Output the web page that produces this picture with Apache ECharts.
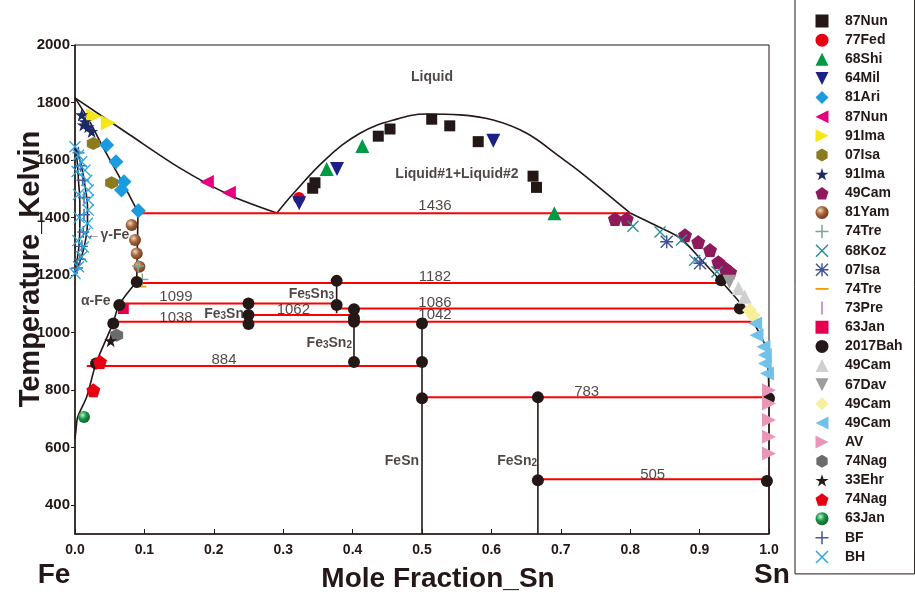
<!DOCTYPE html>
<html>
<head>
<meta charset="utf-8">
<script src="https://cdn.jsdelivr.net/npm/echarts@6/dist/echarts.min.js"></script>
<style>
  html, body { margin: 0; padding: 0; background: #fff; }
  #chart { width: 915px; height: 599px; }
</style>
</head>
<body>
<div id="chart"></div>
<script>
// y axis tick labels (K)
const yTicks = [400, 600, 800, 1000, 1200, 1400, 1600, 1800, 2000]

// phase boundaries [mole fraction Sn, T]
const feLiquidus = [[0, 1816], [0.0793, 1687], [0.1513, 1572], [0.2233, 1478], [0.291, 1416]]
const deltaSolidus = [[0, 1816], [0.0216, 1732], [0.0403, 1645], [0.072, 1506], [0.0908, 1419]]
const gammaEdge = [[0.0908, 1419], [0.0889, 1177]]
const alphaSolvus = [[0.0889, 1177], [0.0634, 1096], [0.0548, 1033], [0.0303, 893], [0.0169, 777], [0.0039, 707], [0.0014, 661], [0, 630]]
const gammaLoopOuter = [[0, 1646], [0.006, 1610], [0.011, 1560], [0.015, 1500], [0.018, 1440], [0.018, 1380], [0.015, 1320], [0.009, 1260], [0, 1208]]
const gammaLoopInner = [[0, 1646], [0.003, 1600], [0.005, 1530], [0.007, 1450], [0.007, 1380], [0.006, 1310], [0.003, 1250], [0, 1208]]
const dome = [[0.291, 1416], [0.3146, 1484], [0.3627, 1606], [0.4107, 1693], [0.4587, 1739], [0.5068, 1760], [0.5548, 1757], [0.6027, 1739], [0.6509, 1693], [0.6988, 1611], [0.7277, 1559], [0.7997, 1416]]
const snLiquidus = [[0.7997, 1416], [0.8357, 1374], [0.8718, 1329], [0.9006, 1258], [0.9294, 1183], [0.9607, 1096], [0.9798, 1026], [0.9942, 956], [0.9986, 870], [1.0, 776]]
const compoundLines = [
  [[0.25, 1101], [0.25, 1030]],
  [[0.377, 1180], [0.377, 1067]],
  [[0.402, 1081], [0.402, 898]],
  [[0.5, 1032], [0.5, 300]],
  [[0.667, 775], [0.667, 300]],
  [[1.0, 776], [1.0, 300]]
]
// invariant reactions [x from, x to, T]
const invariants = [
  [0.094, 0.80, 1415], [0.09, 0.931, 1173], [0.065, 0.377, 1101], [0.38, 0.958, 1084],
  [0.25, 0.402, 1061], [0.05, 0.975, 1038], [0.017, 0.5, 884], [0.5, 1.0, 775], [0.667, 1.0, 490]
]

// experimental points
const nun87Sq = [[0.3425, 1502], [0.3458, 1521], [0.437, 1683], [0.4539, 1708], [0.514, 1742], [0.54, 1719], [0.581, 1664], [0.66, 1544], [0.665, 1505]]
const fed77 = [[0.3228, 1468]]
const shi68 = [[0.3627, 1569], [0.414, 1649], [0.6907, 1415]]
const mil64 = [[0.323, 1450], [0.3775, 1569], [0.6028, 1667]]
const ari81 = [[0.0456, 1652], [0.059, 1594], [0.0706, 1525], [0.067, 1496], [0.0913, 1424]]
const nun87Tri = [[0.19, 1524], [0.2217, 1486]]
const ima91Tri = [[0.027, 1752], [0.048, 1730]]
const isa07Hex = [[0.0264, 1658], [0.0528, 1521]]
const ima91Star = [[0.0096, 1757], [0.0144, 1733], [0.012, 1722], [0.019, 1716], [0.024, 1699]]
const cam49Pent = [[0.778, 1395], [0.795, 1395], [0.879, 1339], [0.898, 1315], [0.915, 1287], [0.927, 1245], [0.937, 1224], [0.944, 1210]]
const yam81 = [[0.0816, 1374], [0.0865, 1322], [0.0889, 1275], [0.0927, 1229]]
const tre74Plus = [[0.091, 1232], [0.097, 1185]]
const koz68 = [[0.804, 1370], [0.843, 1350], [0.874, 1322], [0.893, 1252], [0.925, 1212]]
const isa07Ast = [[0.8526, 1316], [0.9006, 1241]]
const tre74Dash = [[0.094, 1160]]
const pre73 = []
const jan63Sq = [[0.0696, 1084]]
const bah2017 = [
  [0.0889, 1176], [0.0638, 1096], [0.0552, 1032], [0.0303, 893],
  [0.25, 1101], [0.25, 1061], [0.25, 1030],
  [0.377, 1180], [0.377, 1096],
  [0.402, 1081], [0.402, 1050], [0.402, 1038], [0.402, 898],
  [0.5, 1032], [0.5, 898], [0.5, 772],
  [0.667, 775], [0.667, 487],
  [0.931, 1182], [0.958, 1084], [1.0, 772], [0.997, 484]
]
const cam49Tri = [[0.956, 1154], [0.965, 1125]]
const dav67 = [[0.943, 1177]]
const cam49Dia = [[0.972, 1078], [0.977, 1060]]
const cam49Left = [[0.98, 1032], [0.982, 991], [0.992, 951], [0.994, 922], [0.994, 893], [0.997, 858]]
const av = [[1.0, 800], [1.0, 754], [1.0, 696], [1.0, 638], [1.0, 580]]
const nag74Hex = [[0.06, 991]]
const ehr33 = [[0.0514, 972]]
const nag74Pent = [[0.036, 898], [0.0264, 800]]
const jan63Ball = [[0.013, 707]]
const bf = [[0.005, 1625], [0.008, 1580], [0.011, 1530], [0.013, 1470], [0.013, 1410], [0.012, 1350], [0.01, 1300], [0.007, 1255], [0.003, 1225]]
const bh = [[0, 1646], [0.005, 1617], [0.0096, 1594], [0.0144, 1565], [0.017, 1530], [0.019, 1496], [0.019, 1461], [0.019, 1426], [0.018, 1380], [0.0144, 1345], [0.012, 1298], [0.0096, 1264], [0.005, 1229], [0, 1206], [0.003, 1560], [0.005, 1480], [0.006, 1400], [0.004, 1320]]

// annotations [text, x, T, align]
const notes = [
  ['Liquid', 0.5144, 1889, 'center'],
  ['Liquid#1+Liquid#2', 0.5504, 1551, 'center'],
  ['\u2190\u03b3-Fe', 0.0165, 1339, 'left'],
  ['\u03b1-Fe', 0.030, 1110, 'center'],
  ['{b|Fe}{s|5}{b|Sn}{s|3}', 0.3732, 1136, 'right'],
  ['{b|Fe}{s|3}{b|Sn}', 0.2435, 1068, 'right'],
  ['{b|Fe}{s|3}{b|Sn}{s|2}', 0.3991, 968, 'right'],
  ['{b|FeSn}', 0.4957, 557, 'right'],
  ['{b|FeSn}{s|2}', 0.6657, 557, 'right']
]
const tempNotes = [
  ['1436', 0.5187, 1440], ['1182', 0.5187, 1193], ['1086', 0.5187, 1103], ['1042', 0.5187, 1061],
  ['1099', 0.1455, 1124], ['1038', 0.1455, 1050], ['1062', 0.3146, 1078], ['884', 0.2147, 904],
  ['783', 0.7373, 794], ['505', 0.8324, 507]
]

const FONT = "'Liberation Sans', Arial, sans-serif"
const INK = '#231815'

const SYM = {
  down: 'path://M0,0L10,0L5,10Z',
  left: 'path://M0,5L10,0L10,10Z',
  right: 'path://M0,0L10,5L0,10Z',
  hex: 'path://M5,0L9.33,2.5L9.33,7.5L5,10L0.67,7.5L0.67,2.5Z',
  pent: 'path://M5,0L9.76,3.45L7.94,9.05L2.06,9.05L0.24,3.45Z',
  star: 'path://M5,0L6.12,3.45L9.76,3.45L6.82,5.59L7.94,9.05L5,6.91L2.06,9.05L3.18,5.59L0.24,3.45L3.88,3.45Z',
  plus: 'path://M4.4,0H5.6V4.4H10V5.6H5.6V10H4.4V5.6H0V4.4H4.4Z',
  cross: 'path://M0.8,0L10,9.2L9.2,10L0,0.8ZM9.2,0L10,0.8L0.8,10L0,9.2Z',
  ast: 'path://M0,4.45H10V5.55H0ZM4.45,0H5.55V10H4.45ZM0.75,0L10,9.25L9.25,10L0,0.75ZM9.25,0L10,0.75L0.75,10L0,9.25Z',
  dash: 'path://M0,0L0,0ZM10,10L10,10ZM0,4.3H10V5.7H0Z',
  bar: 'path://M0,0L0,0ZM10,10L10,10ZM4.3,0H5.7V10H4.3Z'
}

const ball = (light, mid, dark) => ({
  type: 'radial', x: 0.38, y: 0.35, r: 0.7,
  colorStops: [{ offset: 0, color: light }, { offset: 0.45, color: mid }, { offset: 1, color: dark }]
})

// legend order; duplicated names carry zero-width spaces so each keeps its own entry
const markers = [
  { name: '87Nun', data: nun87Sq, symbol: 'rect', size: 11, color: INK },
  { name: '77Fed', data: fed77, symbol: 'circle', size: 12, color: '#e60012' },
  { name: '68Shi', data: shi68, symbol: 'triangle', size: 14, color: '#009944' },
  { name: '64Mil', data: mil64, symbol: SYM.down, size: 14, color: '#1d2088' },
  { name: '81Ari', data: ari81, symbol: 'diamond', size: 15, color: '#1a9be0' },
  { name: '87Nun\u200b', data: nun87Tri, symbol: SYM.left, size: 14, color: '#e4007f' },
  { name: '91Ima', data: ima91Tri, symbol: SYM.right, size: 15, color: '#f5e617' },
  { name: '07Isa', data: isa07Hex, symbol: SYM.hex, size: 13, color: '#8c7a1f' },
  { name: '91Ima\u200b', data: ima91Star, symbol: SYM.star, size: 13, color: '#1c2a66' },
  { name: '49Cam', data: cam49Pent, symbol: SYM.pent, size: 14, color: '#8e1a5c' },
  { name: '81Yam', data: yam81, symbol: 'circle', size: 12, color: ball('#f3d6c2', '#a8683e', '#6a3518') },
  { name: '74Tre', data: tre74Plus, symbol: SYM.plus, size: 12, color: '#7fa592' },
  { name: '68Koz', data: koz68, symbol: SYM.cross, size: 12, color: '#2a8c9a' },
  { name: '07Isa\u200b', data: isa07Ast, symbol: SYM.ast, size: 13, color: '#3e4f9c' },
  { name: '74Tre\u200b', data: tre74Dash, symbol: SYM.dash, size: 12, color: '#f39800' },
  { name: '73Pre', data: pre73, symbol: SYM.bar, size: 12, color: '#c490bf' },
  { name: '63Jan', data: jan63Sq, symbol: 'rect', size: 11, color: '#e5004f' },
  { name: '2017Bah', data: bah2017, symbol: 'circle', size: 12, color: INK },
  { name: '49Cam\u200b', data: cam49Tri, symbol: 'triangle', size: 14, color: '#cfcfcf' },
  { name: '67Dav', data: dav67, symbol: SYM.down, size: 14, color: '#9d9d9e' },
  { name: '49Cam\u200b\u200b', data: cam49Dia, symbol: 'diamond', size: 15, color: '#f8ef9c' },
  { name: '49Cam\u200b\u200b\u200b', data: cam49Left, symbol: SYM.left, size: 14, color: '#72c1e8' },
  { name: 'AV', data: av, symbol: SYM.right, size: 14, color: '#e897b9' },
  { name: '74Nag', data: nag74Hex, symbol: SYM.hex, size: 13, color: '#6b6b6b' },
  { name: '33Ehr', data: ehr33, symbol: SYM.star, size: 13, color: INK },
  { name: '74Nag\u200b', data: nag74Pent, symbol: SYM.pent, size: 14, color: '#e60012' },
  { name: '63Jan\u200b', data: jan63Ball, symbol: 'circle', size: 12, color: ball('#c8f0d0', '#1a9a4a', '#0b5c28') },
  { name: 'BF', data: bf, symbol: SYM.plus, size: 12, color: '#4b5a9c' },
  { name: 'BH', data: bh, symbol: SYM.cross, size: 12, color: '#2ea7e0' }
]

const curve = (data, smooth) => ({
  type: 'line', data, symbol: 'none', silent: true, smooth: smooth || false,
  lineStyle: { color: INK, width: 1.6 }, z: 1
})

const series = [
  curve(feLiquidus, 0.3), curve(deltaSolidus, 0.3), curve(gammaEdge), curve(alphaSolvus, 0.3),
  curve(gammaLoopOuter, 0.4), curve(gammaLoopInner, 0.4), curve(dome, 0.4), curve(snLiquidus, 0.3),
  ...compoundLines.map((d) => curve(d)),
  ...invariants.map(([a, b, t]) => ({
    type: 'line', data: [[a, t], [b, t]], symbol: 'none', silent: true,
    lineStyle: { color: '#ff0000', width: 2 }, z: 1
  })),
  ...markers.map((m) => ({
    type: 'scatter', name: m.name, data: m.data, symbol: m.symbol, symbolSize: m.size,
    itemStyle: { color: m.color, opacity: 1 }, silent: true, z: 3
  })),
  {
    type: 'scatter', silent: true, symbolSize: 1, z: 5,
    itemStyle: { color: 'transparent' },
    data: notes.map(([text, x, t, align]) => ({
      value: [x, t],
      label: { show: true, position: 'inside', formatter: text, align }
    })).concat(tempNotes.map(([text, x, t]) => ({
      value: [x, t],
      label: { show: true, position: 'inside', formatter: text, align: 'center', fontWeight: 'normal', fontSize: 15 }
    }))),
    label: {
      color: INK, fontFamily: FONT, fontSize: 14, fontWeight: 'bold',
      rich: {
        b: { fontSize: 14, fontWeight: 'bold', fontFamily: FONT, color: INK, lineHeight: 16, verticalAlign: 'bottom' },
        s: { fontSize: 10, fontWeight: 'bold', fontFamily: FONT, color: INK, lineHeight: 12, verticalAlign: 'bottom' }
      }
    }
  }
]

const chart = echarts.init(document.getElementById('chart'))
chart.setOption({
  animation: false,
  backgroundColor: '#fff',
  grid: { left: 75, right: 146, top: 45, bottom: 65, show: true, borderColor: INK, borderWidth: 1 },
  xAxis: {
    type: 'value', min: 0, max: 1, interval: 0.1,
    axisLine: { lineStyle: { color: INK, width: 1.5 } },
    axisTick: { inside: true, length: 5, lineStyle: { color: INK } },
    splitLine: { show: false },
    axisLabel: { formatter: (v) => v.toFixed(1), color: INK, fontFamily: FONT, fontSize: 14, fontWeight: 'bold', margin: 9 }
  },
  yAxis: {
    type: 'value', min: 300, max: 2000,
    axisLine: { show: true, lineStyle: { color: INK, width: 1.5 } },
    axisTick: { show: true, length: 4, customValues: yTicks, lineStyle: { color: INK } },
    splitLine: { show: false },
    axisLabel: { customValues: yTicks, formatter: (v) => String(v), color: INK, fontFamily: FONT, fontSize: 15, fontWeight: 'bold', margin: 5 }
  },
  legend: {
    data: markers.map((m) => m.name),
    orient: 'vertical', left: 795, top: -2, height: 600,
    padding: [16, 12, 10, 20.5],
    itemWidth: 13, itemHeight: 13, itemGap: 5.14,
    borderColor: INK, borderWidth: 1,
    selectedMode: false,
    textStyle: { fontFamily: FONT, fontSize: 14, fontWeight: 'bold', color: INK, lineHeight: 13, padding: [0, 0, 0, 11.5] }
  },
  graphic: [
    { type: 'text', x: 31, y: 269, rotation: Math.PI / 2, style: { text: 'Temperature_Kelvin', font: `bold 29px ${FONT}`, fill: INK, align: 'center', verticalAlign: 'middle' } },
    { type: 'text', x: 438, y: 579, style: { text: 'Mole Fraction_Sn', font: `bold 28px ${FONT}`, fill: INK, align: 'center', verticalAlign: 'middle' } },
    { type: 'text', x: 54, y: 575, style: { text: 'Fe', font: `bold 28px ${FONT}`, fill: INK, align: 'center', verticalAlign: 'middle' } },
    { type: 'text', x: 772, y: 575, style: { text: 'Sn', font: `bold 28px ${FONT}`, fill: INK, align: 'center', verticalAlign: 'middle' } }
  ],
  series
})
</script>
</body>
</html>
